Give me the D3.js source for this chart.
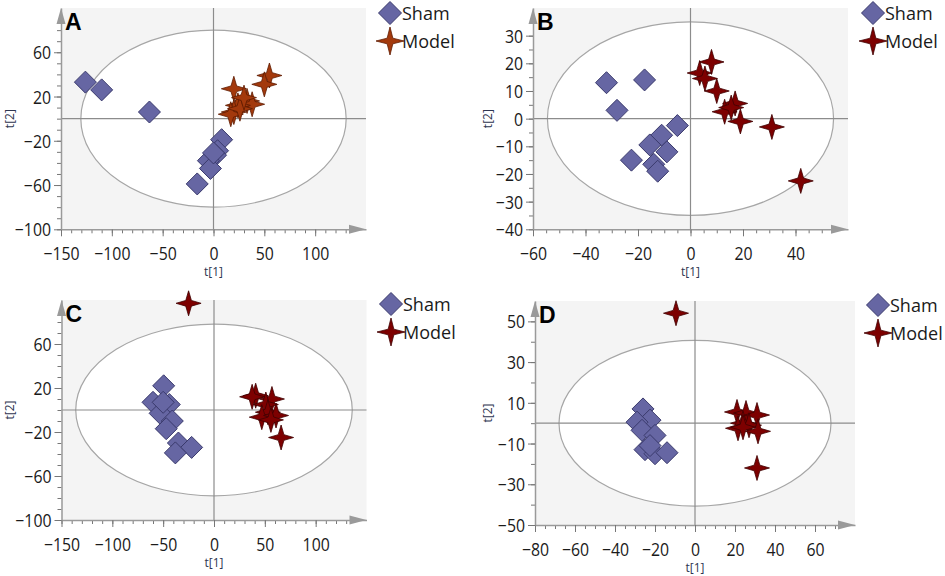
<!DOCTYPE html>
<html><head><meta charset="utf-8">
<script src="https://cdn.jsdelivr.net/npm/d3@7"></script>
<style>body{margin:0;background:#fff}svg{display:block}</style>
</head><body>
<svg id="chart" width="945" height="576"></svg>
<script>
// ---------- data ----------
const groups = ["Sham", "Model"];
const panelLetters = ["A", "B", "C", "D"];

const shamA  = [[-126,33],[-110,26],[-63,6],[8,-19],[4,-29],[2,-33],[-5,-38],[-3,-45],[-16,-59],[0,-31]];
const modelA = [[20,27],[55,39],[50,31],[33,16],[38,13],[24,12],[20,6],[17,4],[26,9],[30,19]];

const shamB  = [[-32,13],[-17.5,14],[-28,3],[-5,-2.5],[-11,-6],[-15.5,-9.5],[-9,-12],[-22.5,-15],[-14,-16.5],[-12.5,-19]];
const modelB = [[8,20.5],[3.5,16.5],[5.5,14.5],[10,10],[17,5.5],[13,2.5],[19,-1],[31,-3],[42,-22.5],[15.5,4]];

const shamC  = [[-49.5,22],[-60,7],[-44,5],[-53,-3],[-41,-10],[-47,-17],[-35,-30],[-22,-34],[-38,-39],[-50,7]];
const modelC = [[-25,97],[41,13],[57,10],[51,5],[53,-2],[47,-6.5],[61,-5],[56,-9],[66,-25],[37.5,12]];

const shamD  = [[-26,7],[-22.5,1.5],[-29,0.5],[-26.5,-3.5],[-20,-6],[-25,-13],[-20,-15],[-14,-14.5],[-22.5,-11]];
const modelD = [[-9.5,54],[21,5.5],[25.5,5],[31,4],[24,0],[21.5,-2.5],[27,-1],[31.5,-4],[31,-22],[24,-2]];

// ellipse semi-axes (Hotelling T2) per panel
const ellipseA = [130.5, 80], ellipseB = [54.5, 35], ellipseC = [136, 78], ellipseD = [68, 40.7];

// axis domains
const xDomA = [-150,150], yDomA = [-100,100];
const xDomB = [-60,60],   yDomB = [-40,40];
const xDomC = [-150,150], yDomC = [-100,100];
const xDomD = [-80,80],   yDomD = [-50,60];

// tick labels
const xTicksA = [-150,-100,-50,0,50,100], yTicksA = [60,20,-20,-60,-100];
const xTicksB = [-60,-40,-20,0,20,40],    yTicksB = [30,20,10,0,-10,-20,-30,-40];
const xTicksC = [-150,-100,-50,0,50,100], yTicksC = [60,20,-20,-60,-100];
const xTicksD = [-80,-60,-40,-20,0,20,40,60], yTicksD = [50,30,10,-10,-30,-50];
const xMinorStep = [10,5,10,5], yMinorStep = [10,5,10,10];

// ---------- layout / style ----------
const layout = [
  {x0:61,  x1:366, y0:8,   y1:229.3, ylab:14,  legX:390, legY:13, modelColor:"#a3390c", modelStroke:"#5e1a00"},
  {x0:533, x1:848, y0:8,   y1:229.3, ylab:492, legX:873, legY:13, modelColor:"#7d0000", modelStroke:"#3f0000"},
  {x0:61.5,x1:366.5,y0:300,y1:520,   ylab:14,  legX:391, legY:304, modelColor:"#7d0000", modelStroke:"#3f0000"},
  {x0:535, x1:855, y0:301, y1:525,   ylab:492, legX:878, legY:305, modelColor:"#7d0000", modelStroke:"#3f0000"}
];
const panels = [
  {sham:shamA, model:modelA, ell:ellipseA, xd:xDomA, yd:yDomA, xt:xTicksA, yt:yTicksA},
  {sham:shamB, model:modelB, ell:ellipseB, xd:xDomB, yd:yDomB, xt:xTicksB, yt:yTicksB},
  {sham:shamC, model:modelC, ell:ellipseC, xd:xDomC, yd:yDomC, xt:xTicksC, yt:yTicksC},
  {sham:shamD, model:modelD, ell:ellipseD, xd:xDomD, yd:yDomD, xt:xTicksD, yt:yTicksD}
];

const shamFill = "#6666a3", shamStroke = "#3a3a6c";
const axisCol = "#9a9a9a", zeroCol = "#8c8c8c";
const tickFont = "'Open Sans', sans-serif";

function starPath(R, r) {
  const pts = [];
  for (let i = 0; i < 8; i++) {
    const a = i * Math.PI / 4 - Math.PI / 2;
    const rad = i % 2 === 0 ? R : r;
    pts.push([Math.cos(a) * rad, Math.sin(a) * rad]);
  }
  return "M" + pts.map(p => p[0].toFixed(2) + "," + p[1].toFixed(2)).join("L") + "Z";
}
function diamondPath(h) { return `M0,${-h}L${h},0L0,${h}L${-h},0Z`; }

const svg = d3.select("#chart");

panels.forEach((p, i) => {
  const L = layout[i];
  const x = d3.scaleLinear().domain(p.xd).range([L.x0, L.x1]);
  const y = d3.scaleLinear().domain(p.yd).range([L.y1, L.y0]);
  const g = svg.append("g");

  g.append("rect").attr("x", L.x0).attr("y", L.y0)
    .attr("width", L.x1 - L.x0).attr("height", L.y1 - L.y0).attr("fill", "#f4f4f4");

  g.append("ellipse").attr("cx", x(0)).attr("cy", y(0))
    .attr("rx", x(p.ell[0]) - x(0)).attr("ry", y(0) - y(p.ell[1]))
    .attr("fill", "#fff").attr("stroke", "#a6a6a6").attr("stroke-width", 1.2);

  g.append("line").attr("x1", L.x0).attr("x2", L.x1).attr("y1", y(0)).attr("y2", y(0))
    .attr("stroke", zeroCol).attr("stroke-width", 1.2);
  g.append("line").attr("x1", x(0)).attr("x2", x(0)).attr("y1", L.y0).attr("y2", L.y1)
    .attr("stroke", zeroCol).attr("stroke-width", 1.2);

  // minor ticks
  const xm = d3.range(p.xd[0], p.xd[1] - 15 / ((L.x1 - L.x0) / (p.xd[1] - p.xd[0])) + 0.001, xMinorStep[i]);
  const ym = d3.range(p.yd[0], p.yd[1] - 15 / ((L.y1 - L.y0) / (p.yd[1] - p.yd[0])) + 0.001, yMinorStep[i]);
  const xMinor = g.append("g").attr("transform", `translate(0,${L.y1})`)
    .call(d3.axisBottom(x).tickValues(xm).tickSize(4).tickSizeOuter(0).tickFormat(""));
  xMinor.select(".domain").remove();
  const yMinor = g.append("g").attr("transform", `translate(${L.x0},0)`)
    .call(d3.axisLeft(y).tickValues(ym).tickSize(4).tickSizeOuter(0).tickFormat(""));
  yMinor.select(".domain").remove();

  const xAx = g.append("g").attr("transform", `translate(0,${L.y1})`)
    .call(d3.axisBottom(x).tickValues(p.xt).tickSize(7).tickSizeOuter(0).tickFormat(d3.format("d")));
  const yAx = g.append("g").attr("transform", `translate(${L.x0},0)`)
    .call(d3.axisLeft(y).tickValues(p.yt).tickSize(7).tickSizeOuter(0).tickFormat(d3.format("d")));

  [xMinor, yMinor, xAx, yAx].forEach(a => {
    a.selectAll("line").attr("stroke", "#777");
    a.selectAll(".domain").attr("stroke", axisCol).attr("stroke-width", 1.5);
  });
  // tick labels: narrow digits
  xAx.selectAll("text")
     .attr("y", null).attr("dy", null)
     .attr("transform", `translate(0,31) scale(0.88,1)`)
     .attr("font-size", 18).attr("font-family", tickFont).attr("fill", "#1a1a1a");
  yAx.selectAll("text")
     .attr("x", null).attr("dy", null)
     .attr("transform", `translate(-10,6.5) scale(0.88,1)`)
     .attr("font-size", 18).attr("font-family", tickFont).attr("fill", "#1a1a1a");

  // arrows
  g.append("path").attr("d", `M${L.x0},${L.y0}L${L.x0 + 4.5},${L.y0 + 16}L${L.x0 - 4.5},${L.y0 + 16}Z`)
    .attr("fill", "#9a9a9a");
  g.append("path").attr("d", `M${L.x1},${L.y1}L${L.x1 - 17},${L.y1 - 4.5}L${L.x1 - 17},${L.y1 + 4.5}Z`)
    .attr("fill", "#9a9a9a");

  // axis titles
  g.append("text").attr("x", (L.x0 + L.x1) / 2).attr("y", L.y1 + 47)
    .attr("text-anchor", "middle").attr("font-size", 12).attr("font-family", tickFont)
    .attr("fill", "#2e3550").text("t[1]");
  g.append("text").attr("transform", `translate(${L.ylab},${(L.y0 + L.y1) / 2}) rotate(-90)`)
    .attr("text-anchor", "middle").attr("font-size", 12).attr("font-family", tickFont)
    .attr("fill", "#2e3550").text("t[2]");

  // points
  g.selectAll(".sham").data(p.sham).join("path").attr("class", "sham")
    .attr("d", diamondPath(11)).attr("transform", d => `translate(${x(d[0])},${y(d[1])})`)
    .attr("fill", shamFill).attr("stroke", shamStroke).attr("stroke-width", 1);
  g.selectAll(".model").data(p.model).join("path").attr("class", "model")
    .attr("d", starPath(12.5, 4)).attr("transform", d => `translate(${x(d[0])},${y(d[1])})`)
    .attr("fill", L.modelColor).attr("stroke", L.modelStroke).attr("stroke-width", 0.8);

  // panel letter
  g.append("text").attr("x", L.x0 + 4).attr("y", L.y0 + 22)
    .attr("font-size", 23).attr("font-weight", "bold").attr("font-family", "'Liberation Sans', Arial, sans-serif")
    .attr("fill", "#000").text(panelLetters[i]);

  // legend
  const leg = g.append("g").attr("transform", `translate(${L.legX},${L.legY})`);
  leg.append("path").attr("d", diamondPath(11.5)).attr("fill", shamFill).attr("stroke", shamStroke);
  leg.append("path").attr("d", starPath(14, 4)).attr("transform", "translate(0,28)")
    .attr("fill", L.modelColor).attr("stroke", L.modelStroke).attr("stroke-width", 0.8);
  leg.append("text").attr("x", 12).attr("y", 6.5).attr("font-size", 18).attr("font-family", tickFont)
    .attr("fill", "#1a1a1a").text(groups[0]);
  leg.append("text").attr("x", 12).attr("y", 34.5).attr("font-size", 18).attr("font-family", tickFont)
    .attr("fill", "#1a1a1a").text(groups[1]);
});
</script>
</body></html>
